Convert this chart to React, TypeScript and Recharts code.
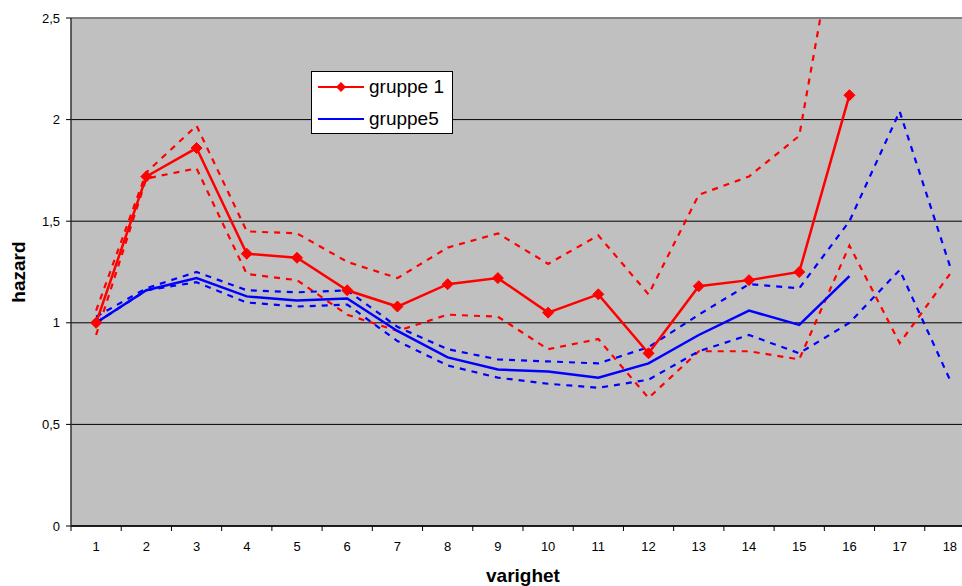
import React from 'react';
import { LineChart, Line, XAxis, YAxis, CartesianGrid, Legend, ReferenceLine, Label } from 'recharts';

const categories = [1, 2, 3, 4, 5, 6, 7, 8, 9, 10, 11, 12, 13, 14, 15, 16, 17, 18];
const yTicks = [0, 0.5, 1, 1.5, 2, 2.5];

const gruppe1 = [1.0, 1.72, 1.86, 1.34, 1.32, 1.16, 1.08, 1.19, 1.22, 1.05, 1.14, 0.85, 1.18, 1.21, 1.25, 2.12, null, null];
const gruppe1Upper = [1.06, 1.74, 1.97, 1.45, 1.44, 1.3, 1.22, 1.37, 1.44, 1.29, 1.43, 1.14, 1.63, 1.72, 1.92, 3.3, null, null];
const gruppe1Lower = [0.94, 1.71, 1.76, 1.24, 1.21, 1.04, 0.96, 1.04, 1.03, 0.87, 0.92, 0.63, 0.86, 0.86, 0.82, 1.38, 0.9, 1.24];

const gruppe5 = [1.0, 1.16, 1.22, 1.13, 1.11, 1.12, 0.96, 0.83, 0.77, 0.76, 0.73, 0.8, 0.94, 1.06, 0.99, 1.23, null, null];
const gruppe5Upper = [1.03, 1.17, 1.25, 1.16, 1.15, 1.16, 0.98, 0.87, 0.82, 0.81, 0.8, 0.88, 1.04, 1.19, 1.17, 1.5, 2.04, 1.28];
const gruppe5Lower = [1.0, 1.16, 1.2, 1.1, 1.08, 1.09, 0.91, 0.79, 0.73, 0.7, 0.68, 0.72, 0.86, 0.94, 0.85, 1.0, 1.26, 0.72];

const data = categories.map((c, i) => ({
  x: c,
  g1: gruppe1[i],
  g1Upper: gruppe1Upper[i],
  g1Lower: gruppe1Lower[i],
  g5: gruppe5[i],
  g5Upper: gruppe5Upper[i],
  g5Lower: gruppe5Lower[i],
}));

// label positions at category centres, tick marks at category boundaries
const xTicks = categories.flatMap((c) => [c - 0.5, c]).concat([categories[categories.length - 1] + 0.5]);

const RED = '#ff0000';
const BLUE = '#0000ff';
const DASH = '6 6';

const XTick = (props: any) => {
  const { x, y, payload } = props;
  const v = payload.value;
  if (Number.isInteger(v)) {
    return (
      <text x={x} y={y + 25} textAnchor="middle" fontSize={13} fill="#000">
        {v}
      </text>
    );
  }
  return <line x1={x} x2={x} y1={y} y2={y + 5} stroke="#000" strokeWidth={1} />;
};

const Diamond = (props: any) => {
  const { cx, cy, index } = props;
  if (cx == null || cy == null || isNaN(cy)) return <g key={`d${index}`} />;
  const r = 5.5;
  return (
    <polygon
      key={`d${index}`}
      points={`${cx},${cy - r} ${cx + r},${cy} ${cx},${cy + r} ${cx - r},${cy}`}
      fill={RED}
      stroke={RED}
    />
  );
};

const LegendBox = () => (
  <div
    style={{
      width: 142,
      height: 63,
      border: '1px solid #000',
      background: '#fff',
      boxSizing: 'border-box',
    }}
  >
    <svg width={140} height={61}>
      <line x1={6} x2={52} y1={15} y2={15} stroke={RED} strokeWidth={2} />
      <polygon points="29,10 34,15 29,20 24,15" fill={RED} />
      <text x={57} y={21} fontSize={19} fill="#000">gruppe 1</text>
      <line x1={6} x2={52} y1={47} y2={47} stroke={BLUE} strokeWidth={2} />
      <text x={57} y={53} fontSize={19} fill="#000">gruppe5</text>
    </svg>
  </div>
);

export default function App() {
  return (
    <div
      style={{
        position: 'absolute',
        left: 8,
        top: 8,
        width: 954,
        height: 578,
        overflow: 'hidden',
        fontFamily: '"Liberation Sans", Arial, sans-serif',
        background: '#fff',
      }}
    >
      <LineChart width={1000} height={578} data={data} margin={{ top: 10, right: 33, bottom: 0, left: 0 }}>
        <CartesianGrid vertical={false} fill="#c0c0c0" stroke="#000" strokeWidth={1} />
        <XAxis
          dataKey="x"
          type="number"
          domain={[0.5, 18.5]}
          ticks={xTicks}
          interval={0}
          tick={<XTick />}
          tickLine={false}
          tickSize={0}
          tickMargin={0}
          height={60}
          axisLine={{ stroke: '#000', strokeWidth: 1.5 }}
        >
          <Label value="varighet" position="insideBottom" offset={4} style={{ fontSize: 19, fontWeight: 'bold', fill: '#000' }} />
        </XAxis>
        <YAxis
          type="number"
          domain={[0, 2.5]}
          ticks={yTicks}
          allowDataOverflow
          width={63}
          tickSize={5}
          tickMargin={6}
          tickFormatter={(v: number) => String(v).replace('.', ',')}
          tick={{ fontSize: 13, fill: '#000' }}
          tickLine={{ stroke: '#000' }}
          axisLine={{ stroke: '#333', strokeWidth: 1.5 }}
        >
          <Label
            value="hazard"
            angle={-90}
            position="insideLeft"
            offset={10}
            style={{ fontSize: 19, fontWeight: 'bold', fill: '#000', textAnchor: 'middle' }}
          />
        </YAxis>
        <ReferenceLine y={2.5} stroke="#808080" strokeWidth={2} />
        <Legend
          layout="horizontal"
          verticalAlign="middle"
          align="center"
          content={<LegendBox />}
          wrapperStyle={{ left: 303, top: 63, width: 142, height: 63 }}
        />
        <Line dataKey="g1Upper" stroke={RED} strokeWidth={2.2} strokeDasharray={DASH} dot={false} isAnimationActive={false} legendType="none" />
        <Line dataKey="g1Lower" stroke={RED} strokeWidth={2.2} strokeDasharray={DASH} dot={false} isAnimationActive={false} legendType="none" />
        <Line dataKey="g5Upper" stroke={BLUE} strokeWidth={2.2} strokeDasharray={DASH} dot={false} isAnimationActive={false} legendType="none" />
        <Line dataKey="g5Lower" stroke={BLUE} strokeWidth={2.2} strokeDasharray={DASH} dot={false} isAnimationActive={false} legendType="none" />
        <Line dataKey="g5" name="gruppe5" stroke={BLUE} strokeWidth={2.5} dot={false} isAnimationActive={false} />
        <Line dataKey="g1" name="gruppe 1" stroke={RED} strokeWidth={2.5} dot={<Diamond />} isAnimationActive={false} />
      </LineChart>
    </div>
  );
}
